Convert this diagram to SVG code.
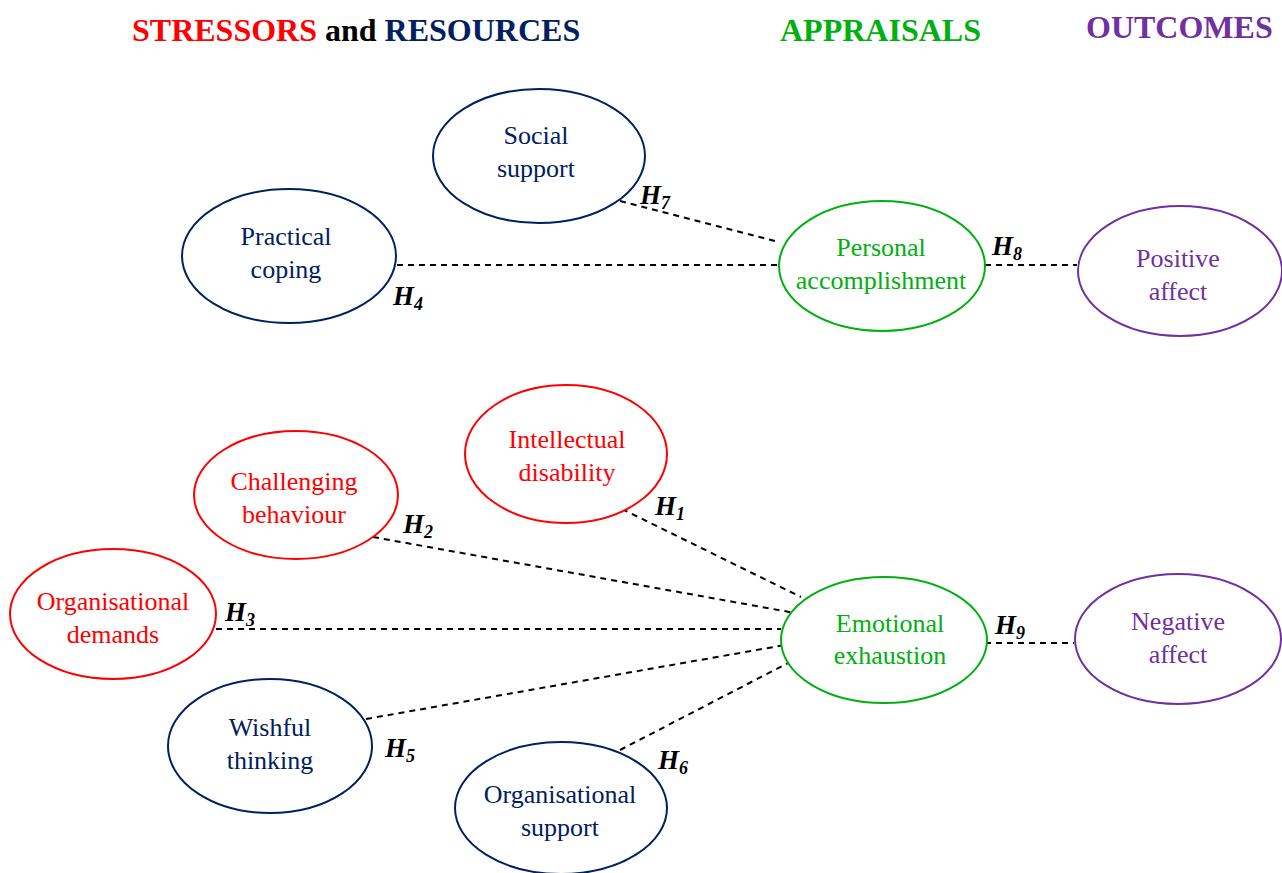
<svg xmlns="http://www.w3.org/2000/svg" width="1282" height="873" viewBox="0 0 1282 873">
  <style>
    .hdr { font-family: "Liberation Serif", "Times New Roman", serif; font-size: 32px; font-weight: bold; }
    .lbl { font-family: "Liberation Serif", "Times New Roman", serif; font-size: 26px; text-anchor: middle; }
    .hyp { font-family: "Liberation Serif", "Times New Roman", serif; font-size: 27px; font-weight: bold; font-style: italic; fill: #000; }
    .hyp tspan { font-size: 18px; }
    .node ellipse { fill: #fff; stroke-width: 2; }
    .stressor ellipse { stroke: #ff0000; } .stressor text { fill: #ff0000; }
    .resource ellipse { stroke: #002060; } .resource text { fill: #002060; }
    .appraisal ellipse { stroke: #00b010; } .appraisal text { fill: #00b010; }
    .outcome ellipse { stroke: #7030a0; } .outcome text { fill: #7030a0; }
    .conn line { stroke: #000; stroke-width: 2; stroke-dasharray: 6 5; }
  </style>
  <rect width="1282" height="873" fill="#fff"/>

  <!-- column headings -->
  <text class="hdr" x="132" y="41"><tspan fill="#ff0000">STRESSORS</tspan><tspan fill="#000"> and </tspan><tspan fill="#002060">RESOURCES</tspan></text>
  <text class="hdr" x="780" y="41" fill="#00b010">APPRAISALS</text>
  <text class="hdr" x="1086" y="38" fill="#7030a0">OUTCOMES</text>

  <!-- hypothesised paths -->
  <g id="connectors" class="conn">
    <line x1="620" y1="201" x2="779" y2="242"/>
    <line x1="397" y1="265" x2="779" y2="265"/>
    <line x1="985" y1="265" x2="1077" y2="265"/>
    <line x1="622" y1="509" x2="801" y2="597"/>
    <line x1="373" y1="537" x2="795" y2="613"/>
    <line x1="216" y1="629" x2="781" y2="629"/>
    <line x1="366" y1="719" x2="785" y2="645"/>
    <line x1="620" y1="750" x2="790" y2="662"/>
    <line x1="985" y1="643" x2="1074" y2="643"/>
  </g>

  <g id="hypotheses">
    <text class="hyp" x="640" y="204">H<tspan dy="5">7</tspan></text>
    <text class="hyp" x="393" y="305">H<tspan dy="5">4</tspan></text>
    <text class="hyp" x="992" y="255">H<tspan dy="5">8</tspan></text>
    <text class="hyp" x="655" y="515">H<tspan dy="5">1</tspan></text>
    <text class="hyp" x="403" y="533">H<tspan dy="5">2</tspan></text>
    <text class="hyp" x="225" y="621">H<tspan dy="5">3</tspan></text>
    <text class="hyp" x="385" y="757">H<tspan dy="5">5</tspan></text>
    <text class="hyp" x="658" y="769">H<tspan dy="5">6</tspan></text>
    <text class="hyp" x="995" y="634">H<tspan dy="5">9</tspan></text>
  </g>

  <!-- resources -->
  <g id="social-support" class="node resource">
    <ellipse cx="539" cy="156" rx="106" ry="67"/>
    <text class="lbl" x="536" y="144">Social</text>
    <text class="lbl" x="536" y="177">support</text>
  </g>
  <g id="practical-coping" class="node resource">
    <ellipse cx="289" cy="256" rx="107" ry="67"/>
    <text class="lbl" x="286" y="245">Practical</text>
    <text class="lbl" x="286" y="278">coping</text>
  </g>
  <g id="wishful-thinking" class="node resource">
    <ellipse cx="270" cy="746" rx="102" ry="67"/>
    <text class="lbl" x="270" y="736">Wishful</text>
    <text class="lbl" x="270" y="769">thinking</text>
  </g>
  <g id="organisational-support" class="node resource">
    <ellipse cx="561" cy="808" rx="106" ry="66"/>
    <text class="lbl" x="560" y="803">Organisational</text>
    <text class="lbl" x="560" y="836">support</text>
  </g>

  <!-- stressors -->
  <g id="intellectual-disability" class="node stressor">
    <ellipse cx="566" cy="454" rx="101" ry="69"/>
    <text class="lbl" x="567" y="448">Intellectual</text>
    <text class="lbl" x="567" y="481">disability</text>
  </g>
  <g id="challenging-behaviour" class="node stressor">
    <ellipse cx="296" cy="495" rx="102" ry="64"/>
    <text class="lbl" x="294" y="490">Challenging</text>
    <text class="lbl" x="294" y="523">behaviour</text>
  </g>
  <g id="organisational-demands" class="node stressor">
    <ellipse cx="113" cy="614" rx="103" ry="65"/>
    <text class="lbl" x="113" y="610">Organisational</text>
    <text class="lbl" x="113" y="643">demands</text>
  </g>

  <!-- appraisals -->
  <g id="personal-accomplishment" class="node appraisal">
    <ellipse cx="882" cy="266" rx="103" ry="65"/>
    <text class="lbl" x="881" y="256">Personal</text>
    <text class="lbl" x="881" y="289">accomplishment</text>
  </g>
  <g id="emotional-exhaustion" class="node appraisal">
    <ellipse cx="884" cy="640" rx="103" ry="63"/>
    <text class="lbl" x="890" y="632">Emotional</text>
    <text class="lbl" x="890" y="664">exhaustion</text>
  </g>

  <!-- outcomes -->
  <g id="positive-affect" class="node outcome">
    <ellipse cx="1180" cy="271" rx="102" ry="65"/>
    <text class="lbl" x="1178" y="267">Positive</text>
    <text class="lbl" x="1178" y="300">affect</text>
  </g>
  <g id="negative-affect" class="node outcome">
    <ellipse cx="1178" cy="639" rx="103" ry="65"/>
    <text class="lbl" x="1178" y="630">Negative</text>
    <text class="lbl" x="1178" y="663">affect</text>
  </g>
</svg>
